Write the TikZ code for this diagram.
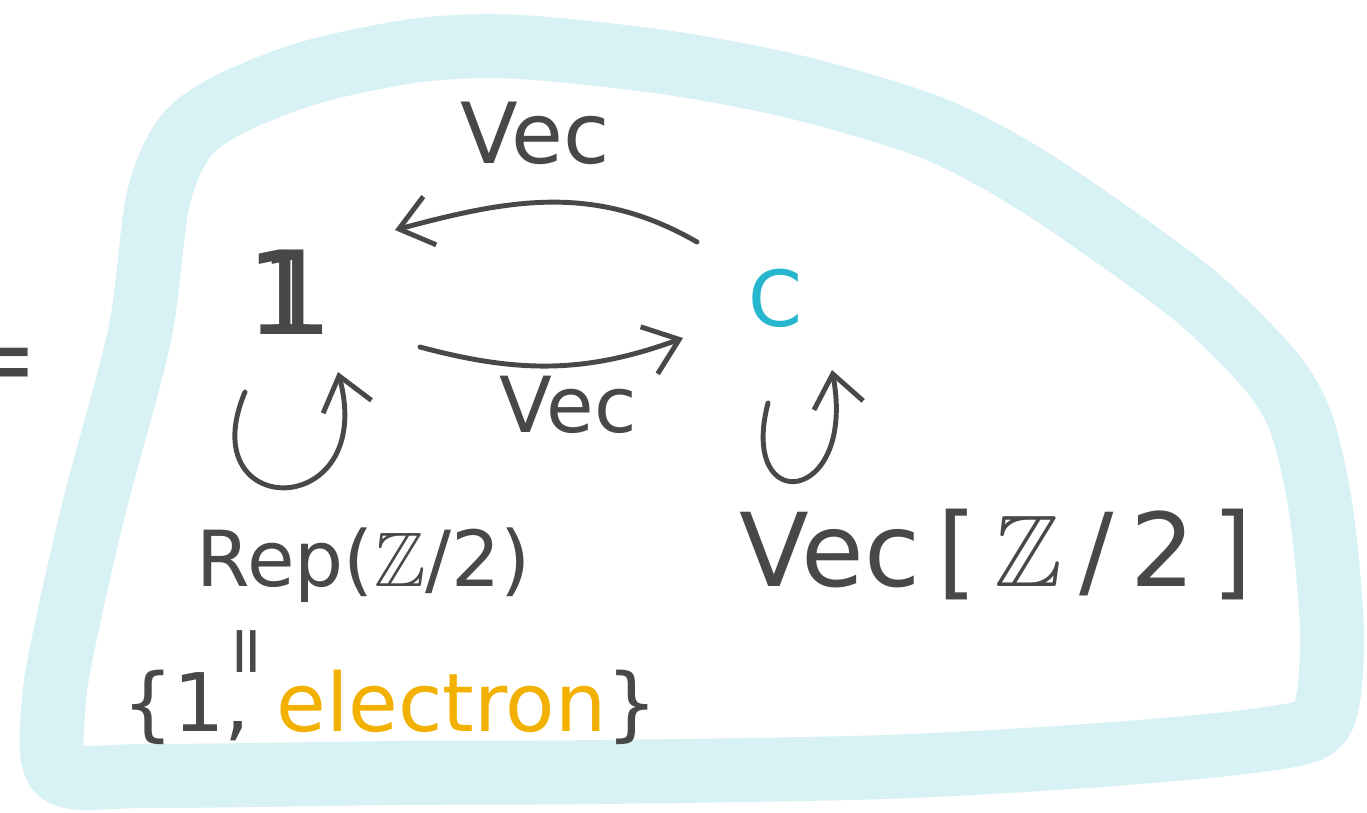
\documentclass[tikz,border=0pt]{standalone}
\usepackage{amsmath,amssymb}
\usepackage{fontspec}
\setmainfont{DejaVu Sans}
\usetikzlibrary{arrows.meta,positioning}
\definecolor{ink}{RGB}{72,72,72}
\definecolor{haze}{RGB}{216,241,245}
\definecolor{catC}{RGB}{38,182,206}
\definecolor{amber}{RGB}{242,176,0}
\tikzset{
  obj/.style={text=ink,inner sep=2pt,font=\fontsize{22}{26}\selectfont},
  arr/.style={-{Straight Barb[length=3.2mm,width=5mm]},line width=1.4pt,draw=ink,line cap=round},
  blob/.style={draw=haze,line width=6.4mm,line join=round},
}
\newcommand{\unit}{\rlap{1}\kern0.11em1}

\begin{document}
\begin{tikzpicture}[x=0.1mm,y=0.1mm]
\useasboundingbox (0,0) rectangle (1367,812);
% the light blue hand-drawn region
\draw[blob] plot[smooth cycle] coordinates {(60,40) (54,112) (70,200) (96,312) (140,479)
  (158,612) (185,675) (230,708) (312,740) (420,762) (520,765) (670,749) (800,724)
  (930,685) (1020,639) (1110,579) (1200,512) (1270,442) (1300,392) (1318,320)
  (1328,240) (1332,160) (1320,90) (1260,72) (1100,57) (885,45) (600,40) (400,39) (150,36)};
\node[obj,font=\fontsize{29}{34}\selectfont] (eq) at (-4,441) {=};
\node[obj,font=\fontsize{33}{40}\selectfont] (one) at (290,520) {\unit};
\node[obj,text=catC] (C) at (775,514) {C};
\node[obj,font=\fontsize{24}{28}\selectfont] (vecT) at (535,679) {Vec};
\node[obj] (vecB) at (568,407) {Vec};
\node[obj] (rep) at (364,247) {Rep($\mathbb{Z}$/2)};
\node[obj,font=\fontsize{29}{34}\selectfont] (vecZ) at (996,258) {Vec\,[\,$\mathbb{Z}$\,/\,2\,]};
\node[obj,rotate=90,font=\fontsize{19}{22}\selectfont] (same) at (252,160) {=};
\node[obj,font=\fontsize{23}{27}\selectfont] (set) at (390,105) {\{1, \textcolor{amber}{electron}\}};
\draw[arr] ([shift={(-78,56)}]C.center) to[out=150,in=15] ([shift={(105,62)}]one.center);
\draw[arr] ([shift={(130,-55)}]one.center) to[out=-15,in=200] ([shift={(-92,-40)}]C.center);
% self-maps
\coordinate (oneA) at ([shift={(-45,-100)}]one.center);
\coordinate (oneB) at ([shift={(48,-80)}]one.center);
\coordinate (CA) at ([shift={(-7,-105)}]C.center);
\coordinate (CB) at ([shift={(57,-72)}]C.center);
\draw[arr] (oneA) .. controls +(-55,-130) and +(40,-150) .. (oneB);
\draw[arr] (CA) .. controls +(-30,-115) and +(25,-135) .. (CB);
\end{tikzpicture}
\end{document}
